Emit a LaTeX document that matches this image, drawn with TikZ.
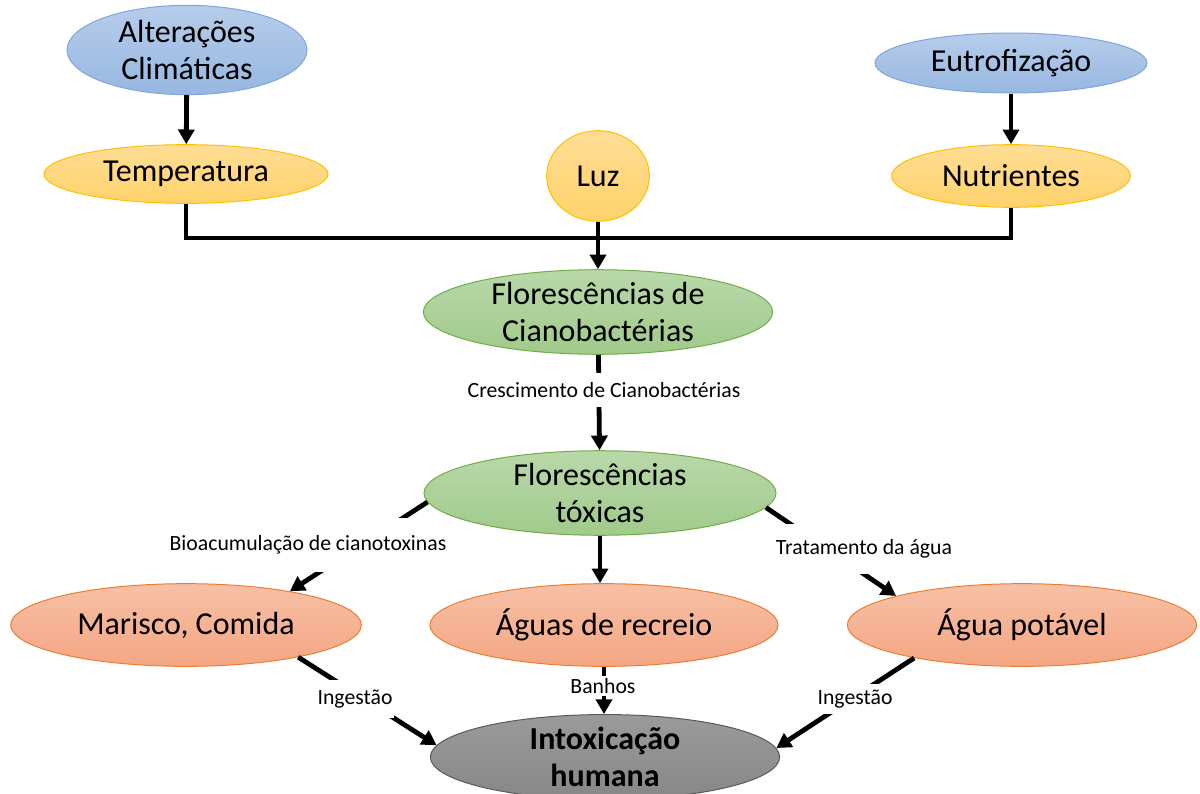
\documentclass[tikz,border=0pt]{standalone}
\usepackage{fontspec}
\setmainfont{Carlito}
\usetikzlibrary{arrows.meta, positioning, shapes.geometric, calc}

\definecolor{blueTop}{HTML}{B6CDEA}
\definecolor{blueBot}{HTML}{97B7E1}
\definecolor{blueLine}{HTML}{7FA6D9}
\definecolor{yelTop}{HTML}{FFDD95}
\definecolor{yelBot}{HTML}{FFD26A}
\definecolor{yelLine}{HTML}{FFC000}
\definecolor{grnTop}{HTML}{B9D8AA}
\definecolor{grnBot}{HTML}{A0CA8A}
\definecolor{grnLine}{HTML}{70AD47}
\definecolor{salTop}{HTML}{F6C0A6}
\definecolor{salBot}{HTML}{F4A683}
\definecolor{salLine}{HTML}{ED7D31}
\definecolor{gryTop}{HTML}{9A9A9A}
\definecolor{gryBot}{HTML}{878787}

\begin{document}
\begin{tikzpicture}[x=0.75pt, y=-0.75pt,
    blob/.style={ellipse, line width=0.75pt, inner sep=0pt, align=center,
        font=\fontsize{24}{28}\selectfont},
    cause/.style={blob, draw=blueLine, top color=blueTop, bottom color=blueBot},
    factor/.style={blob, draw=yelLine, top color=yelTop, bottom color=yelBot},
    bloom/.style={blob, draw=grnLine, top color=grnTop, bottom color=grnBot},
    route/.style={blob, draw=salLine, top color=salTop, bottom color=salBot},
    effect/.style={blob, draw=black!65, top color=gryTop, bottom color=gryBot,
        font=\fontsize{24}{28}\selectfont\bfseries},
    conn/.style={line width=3.6pt},
    arr/.style={conn, -{Triangle[length=11pt, width=12pt]}},
    lbl/.style={fill=white, inner xsep=1pt, font=\fontsize{16.3}{19}\selectfont}]
    \useasboundingbox (0,0) rectangle (1200,793);

    % top row: causes
    \node[cause, minimum width=180pt, minimum height=67pt] (clima) at (187,50) {Alterações\\Climáticas};
    \node[cause, minimum width=204pt, minimum height=45pt] (eutro) at (1011,63) {Eutrofização};

    % factors
    \node[factor, minimum width=213pt, minimum height=44pt] (temp) at (186,174) {Temperatura};
    \node[factor, minimum width=77pt, minimum height=68pt] (luz) at (598,176) {Luz};
    \node[factor, minimum width=179pt, minimum height=47pt] (nutr) at (1011,176) {Nutrientes};

    % blooms
    \node[bloom, minimum width=262pt, minimum height=56pt] (ciano) at (598,312) {Florescências de\\Cianobactérias};
    \node[bloom, minimum width=264pt, minimum height=60pt] (toxic) at (600,493) {Florescências\\tóxicas};

    % exposure routes
    \node[route, minimum width=263pt, minimum height=62pt] (marisco) at (186,625) {Marisco, Comida};
    \node[route, minimum width=261pt, minimum height=62pt] (recreio) at (604,625) {Águas de recreio};
    \node[route, minimum width=262pt, minimum height=62pt] (potavel) at (1022,625) {Água potável};

    % outcome
    \node[effect, minimum width=262pt, minimum height=61pt] (intox) at (605,757) {Intoxicação\\humana};

    % causes -> factors
    \draw[arr] (clima) -- (temp);
    \draw[arr] (eutro) -- (nutr);

    % factors -> blooms
    \coordinate (bus) at (598,238);
    \draw[conn] (temp.south) |- (bus) -| (nutr.south);
    \draw[arr] (luz) -- (ciano);
    \draw[arr] (ciano) -- (toxic);

    % blooms -> routes
    \draw[arr] (toxic.183) -- (marisco.18);
    \draw[arr] (toxic.south) -- (toxic.south |- recreio.north);
    \draw[arr] (toxic.-5) -- (potavel.167);

    % routes -> outcome
    \draw[arr] (marisco.-16) -- (intox.176);
    \draw[arr] (recreio.south) -- (recreio.south |- intox.north);
    \draw[arr] (potavel.197) -- (intox.3);

    % edge labels
    \node[lbl, minimum height=26pt] (grow) at (604,390) {Crescimento de Cianobactérias};
    \node[lbl, minimum height=40pt] (bioac) at (308,545) {Bioacumulação de cianotoxinas};
    \node[lbl, minimum height=38pt] (treat) at (864,549) {Tratamento da água};
    \node[lbl, minimum height=28pt] (ingL) at (355,699) {Ingestão};
    \node[lbl, minimum height=15pt, inner ysep=0pt] (bath) at (603,686) {Banhos};
    \node[lbl, minimum height=23pt] (ingR) at (855,699) {Ingestão};
\end{tikzpicture}
\end{document}
